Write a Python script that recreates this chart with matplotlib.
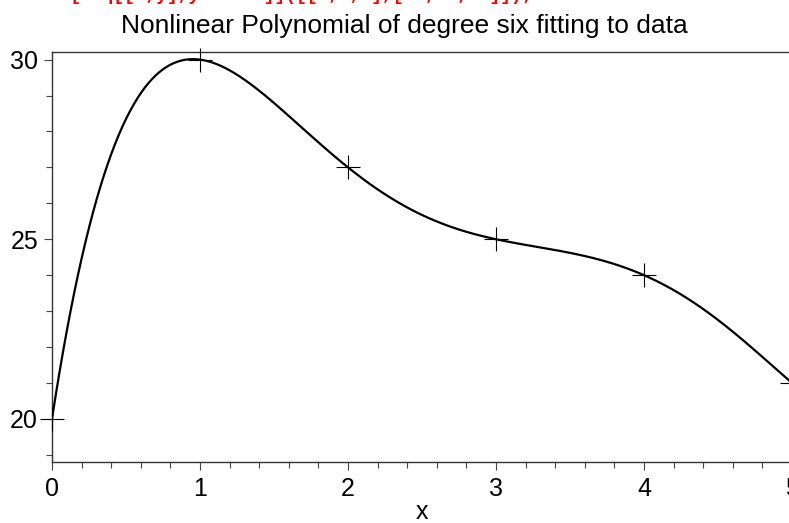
import numpy as np
import matplotlib
matplotlib.use("Agg")
import matplotlib.pyplot as plt
from matplotlib.ticker import MultipleLocator

# data points (x, y)
x_data = [0, 1, 2, 3, 4, 5]
y_data = [20, 30, 27, 25, 24, 21]
x_ticks = [0, 1, 2, 3, 4, 5]
y_ticks = [20, 25, 30]
title = "Nonlinear Polynomial of degree six fitting to data"

# polynomial fitted to the points (what the plot shows)
coef = np.polyfit(x_data, y_data, 5)
xs = np.linspace(0, 5, 400)
ys = np.polyval(coef, xs)

plt.rcParams['font.family'] = ['Liberation Sans', 'DejaVu Sans']

fig = plt.figure(figsize=(7.89, 5.23), dpi=100)
W, H = 789, 523
ax = fig.add_axes([52 / W, 61 / H, 740 / W, (462 - 51.7) / H])

ax.plot(xs, ys, color='black', lw=1.6, zorder=3)
ax.plot(x_data, y_data, ls='none', marker='+', color='black',
        markersize=17, mew=0.8, zorder=4, clip_on=False)

ax.set_xlim(0, 5)
ax.set_ylim(18.8, 30.22)
ax.set_xticks(x_ticks)
ax.set_yticks(y_ticks)
ax.xaxis.set_minor_locator(MultipleLocator(0.2))
ax.yaxis.set_minor_locator(MultipleLocator(1))
ax.tick_params(which='major', direction='out', length=6, width=0.8,
               color='#444444', labelsize=18, pad=5)
ax.tick_params(axis='y', which='major', pad=4)
ax.tick_params(which='minor', direction='out', length=4, width=0.8,
               color='#444444')
for s in ['left', 'top', 'bottom']:
    ax.spines[s].set_color('#333333')
    ax.spines[s].set_linewidth(1)
ax.spines['right'].set_visible(False)

ax.set_xlabel('x', fontsize=18, labelpad=-1)

fig.text(404.5 / W, 1 - 33 / H, title, ha='center', va='baseline',
         fontsize=19)

# cut-off red command line at the very top (only its bottom edge shows)
fig.text(38 / W, 1 - 0.5 / H, "fit[lsq[[x,y],y=a*x^6]]([[0,1,2],[20,30,27]]);",
         color='red', family='Liberation Mono', weight='bold',
         fontsize=13, va='baseline', ha='left')

fig.savefig('out.png', dpi=100)
